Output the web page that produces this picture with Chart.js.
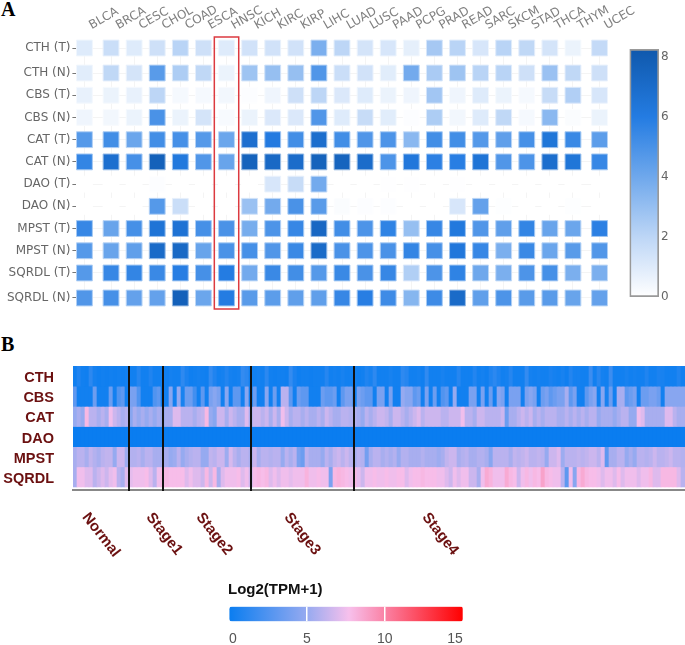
<!DOCTYPE html>
<html>
<head>
<meta charset="utf-8">
<title>H2S enzymes expression</title>
<script src="https://cdn.jsdelivr.net/npm/chart.js@4"></script>
<style>
  body { margin: 0; background: #fff; width: 685px; height: 645px; overflow: hidden; position: relative; }
  canvas { position: absolute; }
  .tag { position: absolute; left: 1px; font: bold 20px "Liberation Serif", serif; color: #000; line-height: 20px; }
</style>
</head>
<body>
<div class="tag" style="top:-1px">A</div>
<div class="tag" style="top:334px">B</div>
<canvas id="panelA" width="685" height="320" style="left:0;top:0;width:685px;height:320px"></canvas>
<canvas id="barA" width="60" height="320" style="left:625px;top:0;width:60px;height:320px"></canvas>
<canvas id="panelB" width="685" height="210" style="left:0;top:360px;width:685px;height:210px"></canvas>
<canvas id="barB" width="260" height="75" style="left:220px;top:570px;width:260px;height:75px"></canvas>
<script>
// panel A: tumour types and gene rows
const cancerTypes = ['BLCA','BRCA','CESC','CHOL','COAD','ESCA','HNSC','KICH','KIRC','KIRP','LIHC','LUAD','LUSC','PAAD','PCPG','PRAD','READ','SARC','SKCM','STAD','THCA','THYM','UCEC'];
const geneRows = ['CTH (T)','CTH (N)','CBS (T)','CBS (N)','CAT (T)','CAT (N)','DAO (T)','DAO (N)','MPST (T)','MPST (N)','SQRDL (T)','SQRDL (N)'];
const highlightType = 'HNSC';
const barATicks = [0, 2, 4, 6, 8];

const cthT = [1.0,1.6,1.0,1.5,2.1,1.5,1.0,1.4,1.4,1.4,3.7,2.0,1.3,1.2,0.8,2.6,2.1,1.2,2.1,1.9,1.3,0.6,1.8];
const cthN = [0.9,1.9,1.3,4.6,2.4,1.9,0.6,2.8,3.0,3.0,4.8,1.6,1.4,0.9,3.9,2.5,2.8,2.1,2.1,1.5,2.9,1.9,1.5];
const cbsT = [0.7,0.6,0.7,2.0,0.3,0.3,0.4,0.1,0.5,1.5,2.0,1.1,1.0,0.6,0.5,2.7,0.5,1.0,0.6,0.3,1.7,2.3,1.2];
const cbsN = [0.5,0.4,0.6,5.0,0.6,1.3,0.25,0.6,1.1,1.1,4.8,1.0,1.7,0.9,0.1,2.4,0.4,1.0,1.9,0.3,3.3,0.15,0.6];
const catT = [4.7,5.2,4.1,5.2,5.1,4.7,4.1,6.8,6.1,5.2,6.9,5.2,4.8,4.9,3.3,5.2,5.2,4.7,4.4,5.1,6.4,5.4,4.5];
const catN = [5.6,6.8,5.1,7.7,6.2,4.8,4.2,7.6,7.2,7.0,7.6,7.5,7.0,4.9,6.3,5.8,5.9,6.5,4.8,4.9,6.9,6.4,5.5];
const daoT = [0,0,0,0.1,0,0,0,0,1.2,1.7,3.9,0,0,0.03,0.03,0,0.03,0,0,0,0,0,0];
const daoN = [0,0,0,4.7,1.6,0,0,2.9,3.9,5.0,4.6,0.15,0.1,0.08,0,0,1.2,4.3,0.05,0,0,0.05,0];
const mpstT = [5.5,4.2,5.1,6.5,6.6,5.1,5.0,3.8,4.9,5.5,7.3,5.2,4.9,5.7,3.0,5.5,6.2,4.8,4.4,5.6,4.2,4.1,5.8];
const mpstN = [4.7,4.2,4.4,7.1,7.2,4.2,5.0,5.1,4.8,5.4,7.1,5.0,4.9,5.0,5.6,5.1,6.3,5.5,3.7,5.4,4.1,4.6,4.8];
const sqrdlT = [4.7,5.5,5.6,5.4,5.9,5.1,6.0,3.9,5.4,5.2,4.7,5.4,5.0,5.5,2.3,4.9,5.7,4.0,3.7,4.9,5.1,3.7,3.7];
const sqrdlN = [4.8,5.1,4.3,4.3,7.7,4.1,6.0,4.6,4.5,4.4,4.4,5.5,5.9,5.3,3.4,5.3,7.1,4.4,4.9,4.6,4.6,4.2,4.3];
const panelARows = [cthT, cthN, cbsT, cbsN, catT, catN, daoT, daoN, mpstT, mpstN, sqrdlT, sqrdlN];

// panel B: genes, stages and the heat strip read left to right
const stripGenes = ['CTH','CBS','CAT','DAO','MPST','SQRDL'];
const stageNames = ['Normal','Stage1','Stage2','Stage3','Stage4'];
const stageEnds = [14, 22.5, 44.5, 70.25];
const stageLabelCols = [2.5, 18.5, 31, 53, 87.5];
const barBTicks = [0, 5, 10, 15];

const stripCth = [
  .2,.8,.3,.2,1.2,.4,.2,.3,.2,.3, .2,.3,.2,.3,.3,.3,1,.3,.3,.8,
  .3,.3,.3,.2,.4,.3,.3,1.3,.6,.2, .3,.4,.3,.2,1.5,.8,.3,.4,.9,.4,
  .3,.4,1.5,1.2,.3,.3,.4,.3,1.2,.3, .2,.3,.3,.2,1.5,.6,.2,.3,.3,.2,
  .3,.3,.3,1,.3,.4,.3,.5,.3,.3, .3,.2,.3,.8,.5,1.3,.3,.3,.3,.5,
  .3,.3,1.3,1,.3,.3,.4,.2,1.4,.3, .3,.3,.5,.3,.3,.3,1,.3,.3,.3,
  .9,.3,.4,.2,.8,1.2,.7,.3,.4,1, .3,.3,.3,1.5,.4,.3,.4,.3,.3,.6,
  .4,.3,.5,.2,.9,.4,.4,.3,.3,1.8, .3,1.1,.4,.3,1.8,.3,.3,.3,.5,.3,
  .4,.3,.3,.8,.3,.3,.6,.5,.3,.3, .3,.8,.3];
const stripCbs = [
  3,.3,.3,.3,.3,3.5,.3,.3,.3,3.5, .3,2.5,3,.3,4,4,2.5,.3,.3,.3,
  2.5,3,.3,.3,4.5,.3,5,.5,3.5,3.5, 2,.3,3,.3,4,4.5,4,.3,4.5,.3,
  3,3,.3,4.5,.3,3.5,.3,.3,4.5,.3, 3.5,.3,6,6,3,.3,3.5,3,3,.3,
  .3,.3,3.5,3,3,3.5,.3,3,4,4, .3,4,3.5,3,3,.3,4,4,.3,4,
  .3,.3,5,4.5,4.5,3,3.5,.3,4,.3, 3.5,.3,2.5,3,.3,5,.3,.3,.3,4,
  4,.3,4,.3,3.5,.3,4.5,4,.3,4, 4,4,.3,4,4.5,4,.3,3.5,4,3,
  3.5,4,4,5.5,3,4,.4,.3,3,4, 4.5,.3,4.5,.5,3.5,.3,5.5,5.5,3,3.5,
  4,.3,3.5,3.5,4,4,3.5,.3,4.5,4.5, 4.5,4.5,4.5];
const stripCat = [
  5,5.5,5,8,6,6,5.5,6,5.5,7.5, 6.5,6,5.5,5.8,4.5,5.5,5,5.5,5,5.5,
  5,5.5,5,5.5,5.5,7,7,6,6,6, 5.5,6,6.2,8,5,4.5,6.5,6.5,5.5,6.5,
  6,5.5,5.5,7,5.5,6.5,6.5,6,6.5,5.5, 6.5,5.5,7.5,6.5,5.5,6,6,5.5,6,5.5,
  5.5,6,5.5,6.5,6,5.5,5.5,6,6,5.8, 5.8,5.5,5,6,5.5,6,6.5,6.5,6.2,5.5,
  6.5,6.5,6,5.5,6,6.5,7,6,6.5,6.5, 6.5,6.5,6,6,6.5,6.5,6.5,7.5,6,6,
  5.5,6.5,6.5,6,6,6,6,6.5,3.5,5.5, 5.5,6,6.5,6,6.5,5.5,6,5.5,6,6,
  6,5.5,5.5,6,5.5,6,5.5,6,5.5,6, 6,5,5.5,5.5,5.5,5,5.5,6,6,5,
  5,7.5,7,5.5,5.5,5.5,5.5,5.5,7,7, 6,5.5,5.5];
const stripDao = [
  0,0,0,0,0,0,0,0,0,0, 0,0,0,0,0,0,0,0,0,0,
  0,0,0,0,0,0,0,0,0,0, 0,0,0,0,0,0,0,0,0,0,
  0,0,0,0,0,0,0,0,0,0, 0,0,0,0,0,0,0,0,0,0,
  0,0,0,0,0,0,0,0,0,0, 0,0,0,0,0,0,0,0,0,0,
  0,0,0,0,0,0,0,0,0,0, 0,0,0,0,0,0,0,0,0,0,
  0,0,0,0,0,0,0,0,0,0, 0,0,0,0,0,0,0,0,0,0,
  0,0,0,0,0,0,0,0,0,0, 0,0,0,0,0,0,0,0,0,0,
  0,0,0,0,0,0,0,0,0,0, 0,0,0];
const stripMpst = [
  5.5,6,6,5.5,6.2,5.8,5.5,6,6.2,6.2, 5,6.5,6.5,5.2,5.8,5.8,6,5.5,6,6,
  5.5,5.5,5.5,5.5,5,5.2,6,5,5.5,5.8, 6,6,5,5,6.2,6,6.5,6.5,5.2,6.8,
  6,5.5,6,6,5.5,6.5,5.5,6,6,5.8, 6,6,5,6,5.5,6,4,3.5,6,5.5,
  5.5,5.5,5,6,5.5,6.2,6.5,6,6.5,6, 5.5,6,5.8,3.8,5.5,6,6,5.5,5.8,5.5,
  5.8,5,5.8,5.8,5.5,5.5,5.5,5.8,5.5,5.5, 5.5,5.2,5.5,6.2,6.5,6.5,5.5,5.8,6,5.5,
  5.5,5.8,5.8,5.5,4.5,6,6,6,6,5.5, 6.2,6,6.2,6.5,6,6,6.2,6,5,6.5,
  6.5,7,5.2,6,6,6,6.2,6,6.2,6.5, 6.5,6,7,3,5.5,5.5,6,6,5,5.5,
  5,6,6,5.8,6,6.5,6,6,6.2,6.5, 6,6,5.8];
const stripSqrdl = [
  5.5,7.5,7.5,7,7,6,6.5,7,6.5,7.2, 7.5,6,5.5,7,7.2,7.5,7.5,7.5,7.8,7,
  6,7.5,8,8,7.8,7.8,7.8,7.8,7,7.5, 7,7,6.5,8,6.5,8,5.5,7,7.5,7.5,
  7.5,7.8,7,7.5,6.5,7.8,8,7.8,8,7, 7.5,7,7.5,7.5,7.2,7.5,7.5,7.5,8.2,7.5,
  7.5,7.8,7.5,7.5,4,8,8.2,8,7.8,7.5, 8,7.2,6.5,7.5,7.5,7.8,7.5,7.5,7.8,7.5,
  7.5,7.8,7.8,7,7.5,7.8,7.8,8,7.8,7.8, 7.8,7.5,7.5,7,6.5,7.5,7,7.5,7.5,6.5,
  6.5,5.5,7.5,8.5,8.2,7.5,7.5,7.5,8.5,8, 7.8,6.5,7.5,8,7.5,8,7.8,8.8,8,7.8,
  7.5,7.5,6,3,7.5,4.5,8,8.5,8,7.8, 7.8,7.5,7,7.5,7.5,7,7.8,7,7.5,7.5,
  7.5,7,7.5,7.5,8,7,7,8,8,8, 8,7,6];
const stripRows = [stripCth, stripCbs, stripCat, stripDao, stripMpst, stripSqrdl];

// colour ramps, value then rgb
const rampA = [[0,[255,255,255]],[2,[189,214,246]],[4,[111,168,236]],[6,[36,124,226]],[8.27,[15,88,172]]];
const rampB = [[0,[10,125,240]],[5,[150,170,240]],[7.7,[247,192,236]],[10,[250,130,165]],[15,[255,0,0]]];

function rampRgb(ramp, v) {
  for (let i = 1; i < ramp.length; i++) {
    if (v <= ramp[i][0]) {
      const t = (v - ramp[i-1][0]) / (ramp[i][0] - ramp[i-1][0]);
      return ramp[i][1].map((c, k) => Math.round(ramp[i-1][1][k] + (c - ramp[i-1][1][k]) * t));
    }
  }
  return ramp[ramp.length-1][1];
}
const css = rgb => `rgb(${rgb[0]},${rgb[1]},${rgb[2]})`;

Chart.defaults.animation = false;
Chart.defaults.responsive = false;
Chart.defaults.plugins.legend.display = false;
Chart.defaults.plugins.tooltip.enabled = false;
Chart.defaults.font.family = '"DejaVu Sans", sans-serif';

// the first and last cells of panel A sit a little further out than the rest
class EdgeGapCategory extends Chart.CategoryScale {
  static id = 'edgeGapCategory';
  getPixelForValue(value, index) {
    const px = super.getPixelForValue(value, index);
    const i = typeof value === 'number' ? value : this.parse(value);
    if (i === 0) return px - this.options.edgeGap;
    if (i === this.getLabels().length - 1) return px + this.options.edgeGap;
    return px;
  }
}
Chart.register(EdgeGapCategory);

const cellData = [];
panelARows.forEach((row, r) => row.forEach((v, c) => {
  cellData.push({ x: cancerTypes[c], y: geneRows[r], v: v });
}));

const redBox = {
  id: 'redBox',
  afterDatasetsDraw(chart) {
    const { ctx, chartArea, scales } = chart;
    const cx = scales.x.getPixelForValue(highlightType);
    ctx.save();
    ctx.strokeStyle = '#dc3a40';
    ctx.lineWidth = 1.5;
    ctx.strokeRect(cx - 12.2, chartArea.top - 2.7, 24.4, chartArea.bottom - chartArea.top + 5.4);
    ctx.restore();
  }
};

new Chart(document.getElementById('panelA'), {
  type: 'scatter',
  data: {
    datasets: [{
      data: cellData,
      pointStyle: 'rect',
      pointRadius: 11.2,
      borderWidth: 1,
      pointBackgroundColor: c => css(rampRgb(rampA, c.raw.v)),
      pointBorderColor: c => {
        const rgb = rampRgb(rampA, c.raw.v);
        return css(rgb.map(k => Math.round(k + (255 - k) * 0.55)));
      }
    }]
  },
  options: {
    layout: { padding: { right: 77.4, bottom: 13.7 } },
    scales: {
      x: {
        type: 'edgeGapCategory',
        labels: cancerTypes,
        position: 'top',
        offset: true,
        edgeGap: 3.5,
        afterFit: s => { s.height = 39.7; s.paddingLeft = 0; s.paddingRight = 0; },
        grid: { color: '#f4f4f4', drawTicks: false },
        border: { display: false },
        ticks: { autoSkip: false, minRotation: 30, maxRotation: 30, labelOffset: 13, color: '#808080', padding: 7, font: { size: 12 } }
      },
      y: {
        type: 'edgeGapCategory',
        labels: geneRows,
        offset: true,
        edgeGap: 2.8,
        afterFit: s => { s.width = 76.4; },
        grid: { color: '#f4f4f4', tickColor: '#777', tickLength: 4 },
        border: { display: false },
        ticks: { autoSkip: false, color: '#666', padding: 2, font: { size: 12 } }
      }
    }
  },
  plugins: [redBox]
});

new Chart(document.getElementById('barA'), {
  type: 'bar',
  data: {
    labels: ['expr'],
    datasets: [{
      data: [[0, 8.27]],
      barPercentage: 1,
      categoryPercentage: 1,
      borderWidth: 2,
      borderColor: '#999',
      borderSkipped: false,
      backgroundColor: c => {
        const { ctx, chartArea } = c.chart;
        if (!chartArea) return '#6fa8ec';
        const g = ctx.createLinearGradient(0, chartArea.bottom, 0, chartArea.top);
        rampA.forEach(s => g.addColorStop(s[0] / 8.27, css(s[1])));
        return g;
      }
    }]
  },
  options: {
    layout: { padding: { left: 4.5, top: 49, bottom: 23 } },
    scales: {
      x: { display: false },
      y: {
        position: 'right',
        min: 0,
        max: 8.27,
        afterFit: s => { s.width = 26; },
        afterBuildTicks: s => { s.ticks = barATicks.map(v => ({ value: v })); },
        grid: { display: false, drawTicks: false },
        border: { display: false },
        ticks: { color: '#666', padding: 2, font: { size: 12 } }
      }
    }
  }
});

const stageMarks = {
  id: 'stageMarks',
  afterDraw(chart) {
    const { ctx, chartArea, scales } = chart;
    ctx.save();
    ctx.strokeStyle = '#111';
    ctx.lineWidth = 2;
    stageEnds.forEach(e => {
      const x = scales.x.getPixelForValue(e - 0.5);
      ctx.beginPath();
      ctx.moveTo(x, chartArea.top);
      ctx.lineTo(x, chartArea.bottom + 1);
      ctx.stroke();
    });
    ctx.fillStyle = '#6b1010';
    ctx.font = 'bold 15px "Liberation Sans", Arial, sans-serif';
    ctx.textAlign = 'left';
    ctx.textBaseline = 'top';
    stageNames.forEach((name, i) => {
      ctx.save();
      ctx.translate(scales.x.getPixelForValue(stageLabelCols[i] - 0.5) + 8, chartArea.bottom + 20);
      ctx.rotate(52 * Math.PI / 180);
      ctx.fillText(name, 0, 0);
      ctx.restore();
    });
    ctx.restore();
  }
};

new Chart(document.getElementById('panelB'), {
  type: 'bar',
  data: {
    labels: stripCth.map((v, i) => i),
    datasets: stripRows.map((row, r) => ({
      data: row.map(() => [r, r + 1]),
      backgroundColor: row.map(v => css(rampRgb(rampB, v))),
      barPercentage: 1,
      categoryPercentage: 1,
      grouped: false,
      borderWidth: 0
    }))
  },
  options: {
    layout: { padding: { top: 6, bottom: 79 } },
    scales: {
      x: {
        ticks: { display: false },
        grid: { display: false, drawTicks: false },
        border: { color: '#888', width: 2 },
        afterFit: s => { s.height = 1; s.paddingLeft = 0; s.paddingRight = 0; }
      },
      y: {
        reverse: true,
        min: 0,
        max: 6.15,
        afterFit: s => { s.width = 73; s.paddingTop = 0; s.paddingBottom = 0; },
        afterBuildTicks: s => { s.ticks = stripGenes.map((g, i) => ({ value: i + 0.5 })); },
        grid: { display: false, drawTicks: false },
        border: { display: false },
        ticks: {
          autoSkip: false,
          color: '#6b1010',
          padding: 19,
          labelOffset: 2,
          font: { family: '"Liberation Sans", Arial, sans-serif', weight: 'bold', size: 14.5 },
          callback: v => stripGenes[v - 0.5]
        }
      }
    }
  },
  plugins: [stageMarks]
});

new Chart(document.getElementById('barB'), {
  type: 'bar',
  data: {
    labels: ['Log2(TPM+1)'],
    datasets: [{
      data: [[0, 15]],
      barPercentage: 1,
      categoryPercentage: 1,
      borderRadius: 3,
      borderSkipped: false,
      backgroundColor: c => {
        const { ctx, chartArea } = c.chart;
        if (!chartArea) return '#0a7df0';
        const g = ctx.createLinearGradient(chartArea.left, 0, chartArea.right, 0);
        rampB.forEach(s => g.addColorStop(s[0] / 15, css(s[1])));
        return g;
      }
    }]
  },
  options: {
    indexAxis: 'y',
    layout: { padding: { left: 8, right: 17.3 } },
    plugins: {
      title: {
        display: true,
        text: 'Log2(TPM+1)',
        align: 'start',
        color: '#111',
        padding: { top: 11, bottom: 7.7 },
        font: { family: '"Liberation Sans", Arial, sans-serif', size: 15, weight: 'bold' }
      }
    },
    scales: {
      y: { display: false },
      x: {
        min: 0,
        max: 15,
        afterFit: s => { s.height = 23.7; },
        afterBuildTicks: s => { s.ticks = barBTicks.map(v => ({ value: v })); },
        grid: {
          z: 1,
          lineWidth: 1.5,
          drawTicks: false,
          color: c => (c.tick && (c.tick.value === 5 || c.tick.value === 10)) ? '#fff' : 'rgba(0,0,0,0)'
        },
        border: { display: false },
        ticks: {
          align: 'inner',
          color: '#555',
          padding: 9,
          font: { family: '"Liberation Sans", Arial, sans-serif', size: 14 }
        }
      }
    }
  }
});
</script>
</body>
</html>
